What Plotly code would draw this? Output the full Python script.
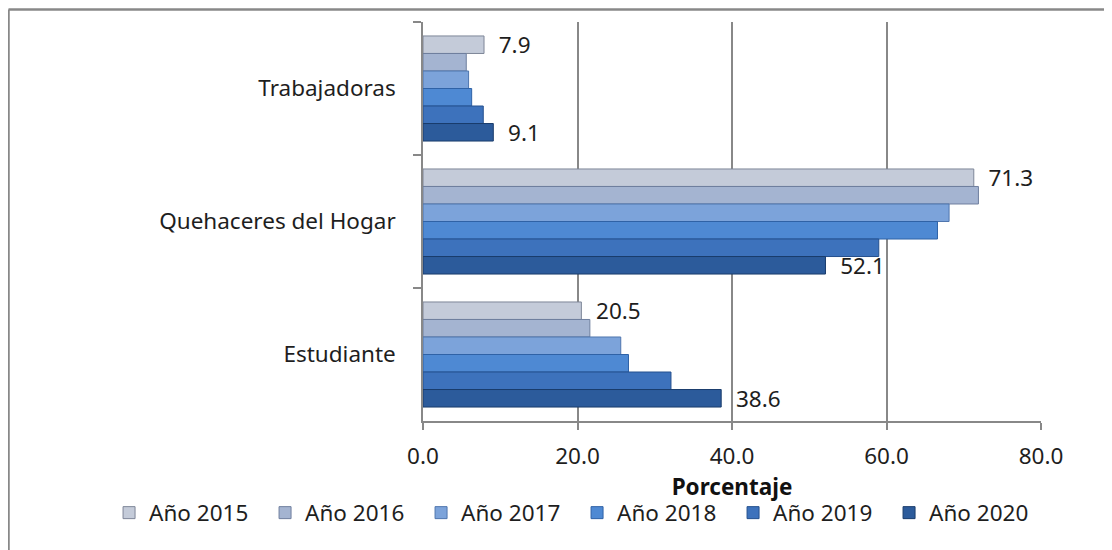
import plotly.graph_objects as go

categories = ["Trabajadoras", "Quehaceres del Hogar", "Estudiante"]
years = ["Año 2015", "Año 2016", "Año 2017", "Año 2018", "Año 2019", "Año 2020"]
v2015 = [7.9, 71.3, 20.5]
v2016 = [5.6, 71.9, 21.6]
v2017 = [5.9, 68.1, 25.6]
v2018 = [6.3, 66.6, 26.6]
v2019 = [7.8, 59.0, 32.1]
v2020 = [9.1, 52.1, 38.6]
series = [v2015, v2016, v2017, v2018, v2019, v2020]
labelled = [True, False, False, False, False, True]
x_ticks = [0, 20, 40, 60, 80]
x_ticklabels = ["0.0", "20.0", "40.0", "60.0", "80.0"]

fills = ["#C4CBD9", "#A4B4D1", "#7CA3DA", "#4E89D3", "#3D72BC", "#2C5B9B"]
edges = ["#7E8698", "#6F7F9E", "#4F76AE", "#2F62A6", "#24508E", "#1A3C6C"]

FONT = "Noto Sans"
FS = 22.5
TXT = "#1E1E1E"
GRAY = "#888888"

fig = go.Figure()
for name, vals, lab, fc, ec in zip(years, series, labelled, fills, edges):
    fig.add_trace(go.Bar(
        name=name, y=categories, x=vals, orientation="h",
        marker=dict(color=fc, line=dict(color=ec, width=1)),
        text=["\u00a0\u00a0" + f"{v:.1f}" for v in vals] if lab else None,
        textposition="outside" if lab else "none",
        constraintext="none",
        textfont=dict(family=FONT, size=FS, color=TXT),
        cliponaxis=False,
    ))

fig.update_layout(
    width=1104, height=542,
    margin=dict(l=415, r=71, t=14, b=129, autoexpand=False),
    paper_bgcolor="white", plot_bgcolor="white",
    barmode="group", bargap=0.21, bargroupgap=0,
    font=dict(family=FONT, size=FS, color=TXT),
    showlegend=True,
    legend=dict(orientation="h", xref="paper", yref="paper",
                x=-0.508, xanchor="left", y=-0.2306, yanchor="middle",
                font=dict(family=FONT, size=FS, color=TXT),
                traceorder="normal", itemwidth=30, entrywidth=111,
                bgcolor="rgba(0,0,0,0)"),
    shapes=[
        dict(type="line", xref="paper", yref="paper", x0=-0.6707, x1=1.2, y0=1.0313, y1=1.0313,
             line=dict(color=GRAY, width=2.5)),
        dict(type="line", xref="paper", yref="paper", x0=-0.6707, x1=-0.6707, y0=1.0313, y1=-0.4,
             line=dict(color=GRAY, width=2.5)),
    ],
)

fig.update_xaxes(
    range=[0, 80], tickvals=x_ticks, ticktext=x_ticklabels,
    showgrid=True, gridcolor=GRAY, gridwidth=1.5,
    showline=True, linecolor=GRAY, linewidth=1.5,
    ticks="outside", ticklen=7, tickcolor=GRAY, tickwidth=1.5,
    tickfont=dict(family=FONT, size=FS, color=TXT),
    ticklabelstandoff=7,
    title=dict(text="<b>Porcentaje</b>", font=dict(family=FONT, size=FS, color="#111111"), standoff=3),
    zeroline=False,
)
fig.update_yaxes(
    categoryorder="array", categoryarray=categories, autorange="reversed",
    showline=True, linecolor=GRAY, linewidth=1.5,
    ticks="outside", ticklen=8, tickcolor=GRAY, tickwidth=1.5, tickson="boundaries",
    tickfont=dict(family=FONT, size=FS, color=TXT),
    ticklabelstandoff=21,
    showgrid=False,
)

fig.write_html("out.html")
